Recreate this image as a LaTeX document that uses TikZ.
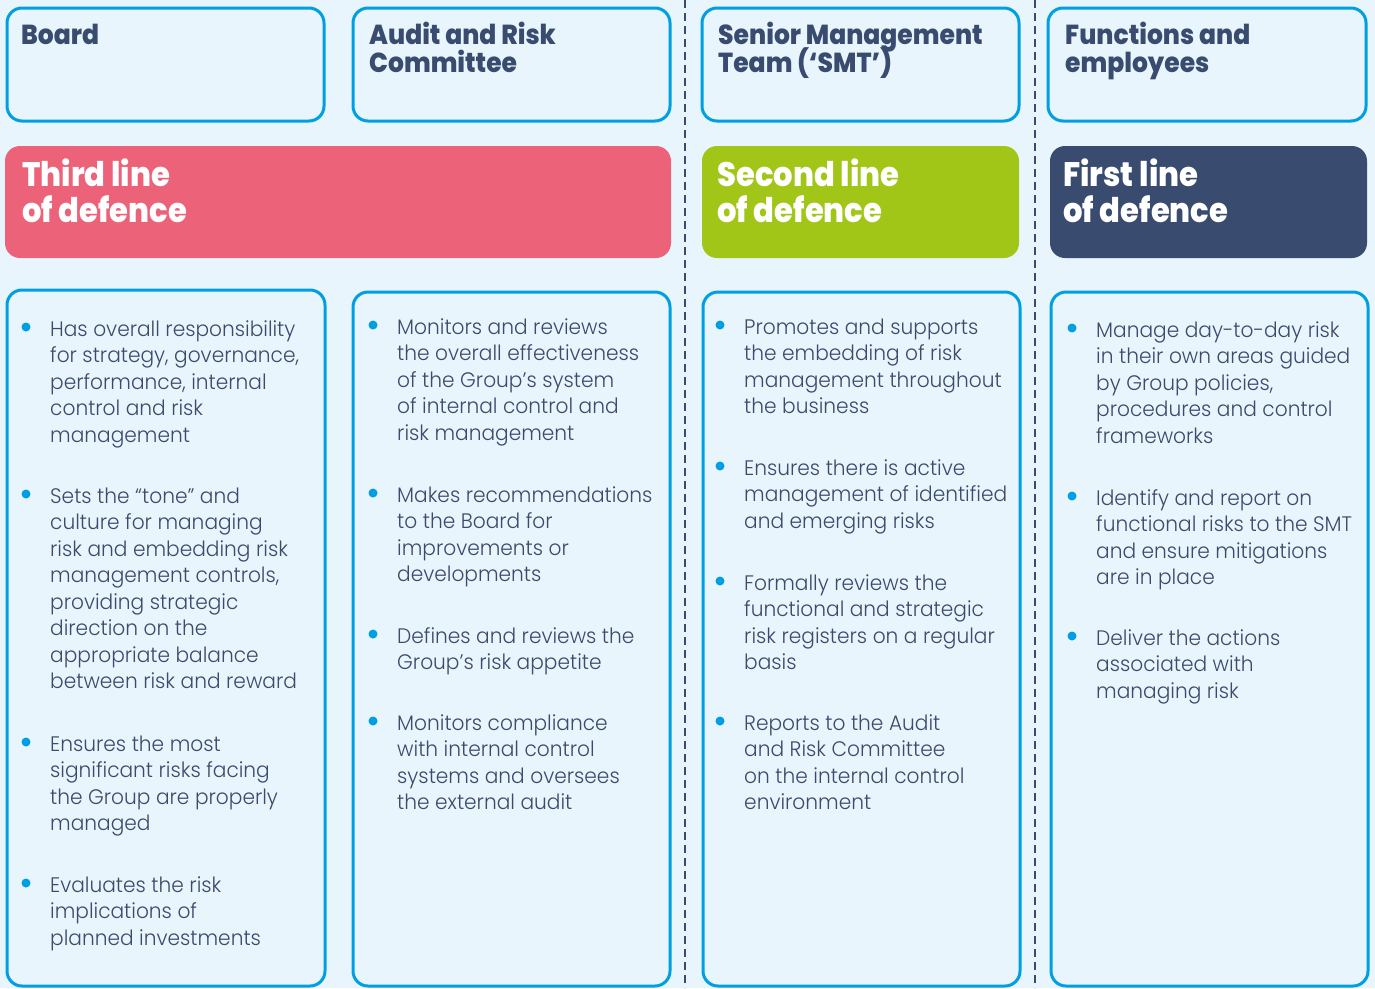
\documentclass[tikz,border=0pt]{standalone}
\usepackage{fontspec}
\setmainfont{Poppins}
\newfontfamily\bodyfont{Poppins Light}[FakeStretch=0.96]
\newfontfamily\headfont{Poppins ExtraBold}[FakeStretch=0.91]
\newfontfamily\bandfont{Poppins ExtraBold}[FakeStretch=0.9]
\definecolor{bgc}{HTML}{E8F5FC}
\definecolor{cyanb}{HTML}{009FE3}
\definecolor{navy}{HTML}{394B6E}
\definecolor{bodyc}{HTML}{3C4A6B}
\definecolor{pinkc}{HTML}{EC6279}
\definecolor{limec}{HTML}{A2C617}
\definecolor{darkc}{HTML}{394C70}
\tikzset{
  outlinebox/.style={draw=cyanb, line width=3pt, fill=bgc, rounded corners=15pt},
  bandbox/.style={rounded corners=15pt},
  dashline/.style={draw=navy, line width=2.5pt, dash pattern=on 8pt off 5pt},
  headtxt/.style={inner sep=0pt, anchor=base west, text=navy, font=\headfont\fontsize{27.5}{28}\selectfont},
  bandtxt/.style={inner sep=0pt, anchor=base west, text=white, font=\bandfont\fontsize{34}{36}\selectfont},
  bodytxt/.style={inner sep=0pt, anchor=base west, text=bodyc, font=\bodyfont\fontsize{21}{26.5}\selectfont},
  bdot/.style={circle, fill=cyanb, inner sep=0pt, minimum size=9pt},
}
% stack of lines with exact baseline distance #1; node baseline = first line
\newcommand\mylines[2]{\vtop{\let\\\cr\baselineskip=#1\lineskiplimit=-\maxdimen\lineskip=0pt\tabskip=0pt\halign{##\hfil\cr#2\cr}}}
\newcommand\bpt[4]{%
  \node[bdot] (#1d) at (#2,#3-9) {};
  \node[bodytxt] (#1) at ({#2+24},#3) {\mylines{26.5pt}{#4}};
}
\begin{document}
\begin{tikzpicture}[x=1pt,y=-1pt]
\fill[bgc] (0,0) rectangle (1375,988);
\useasboundingbox (0,0) rectangle (1375,988);
% dashed separators
\draw[dashline] (685,0) -- (685,988);
\draw[dashline] (1035,0) -- (1035,988);
% top boxes
\draw[outlinebox] (7,8) rectangle (324,121);
\draw[outlinebox] (353,8) rectangle (670,121);
\draw[outlinebox] (702,8) rectangle (1019,121);
\draw[outlinebox] (1048,8) rectangle (1366,121);
\node[headtxt] (hboard) at (21,44) {\mylines{28pt}{Board}};
\node[headtxt] (haudit) at (369,44) {\mylines{28pt}{Audit and Risk\\Committee}};
\node[headtxt] (hsmt) at (718,44) {\mylines{28pt}{Senior Management\\Team (‘SMT’)}};
\node[headtxt] (hfun) at (1065,44) {\mylines{28pt}{Functions and\\employees}};
% bands
\fill[pinkc, bandbox] (5,146) rectangle (671,258);
\fill[limec, bandbox] (702,146) rectangle (1019,258);
\fill[darkc, bandbox] (1050,146) rectangle (1367,258);
\node[bandtxt] (bthird) at (22,186) {\mylines{36pt}{Third line\\of defence}};
\node[bandtxt] (bsecond) at (717,186) {\mylines{36pt}{Second line\\of defence}};
\node[bandtxt] (bfirst) at (1063,186) {\mylines{36pt}{First line\\of defence}};
% bottom boxes
\draw[outlinebox] (7,290) rectangle (325,986);
\draw[outlinebox] (353,292) rectangle (670,986);
\draw[outlinebox] (703,292) rectangle (1020,986);
\draw[outlinebox] (1051,292) rectangle (1368,986);
% column 1
\bpt{ca}{26}{336}{Has overall responsibility\\for strategy, governance,\\performance, internal\\control and risk\\management}
\bpt{cb}{26}{503}{Sets the “tone” and\\culture for managing\\risk and embedding risk\\management controls,\\providing strategic\\direction on the\\appropriate balance\\between risk and reward}
\bpt{cc}{26}{751}{Ensures the most\\significant risks facing\\the Group are properly\\managed}
\bpt{cd}{26}{892}{Evaluates the risk\\implications of\\planned investments}
% column 2
\bpt{da}{373}{334}{Monitors and reviews\\the overall effectiveness\\of the Group’s system\\of internal control and\\risk management}
\bpt{db}{373}{502}{Makes recommendations\\to the Board for\\improvements or\\developments}
\bpt{dc}{373}{643}{Defines and reviews the\\Group’s risk appetite}
\bpt{dd}{373}{730}{Monitors compliance\\with internal control\\systems and oversees\\the external audit}
% column 3
\bpt{ea}{720}{334}{Promotes and supports\\the embedding of risk\\management throughout\\the business}
\bpt{eb}{720}{475}{Ensures there is active\\management of identified\\and emerging risks}
\bpt{ec}{720}{590}{Formally reviews the\\functional and strategic\\risk registers on a regular\\basis}
\bpt{ed}{720}{730}{Reports to the Audit\\and Risk Committee\\on the internal control\\environment}
% column 4
\bpt{fa}{1072}{337}{Manage day-to-day risk\\in their own areas guided\\by Group policies,\\procedures and control\\frameworks}
\bpt{fb}{1072}{505}{Identify and report on\\functional risks to the SMT\\and ensure mitigations\\are in place}
\bpt{fc}{1072}{645}{Deliver the actions\\associated with\\managing risk}
\end{tikzpicture}
\end{document}
